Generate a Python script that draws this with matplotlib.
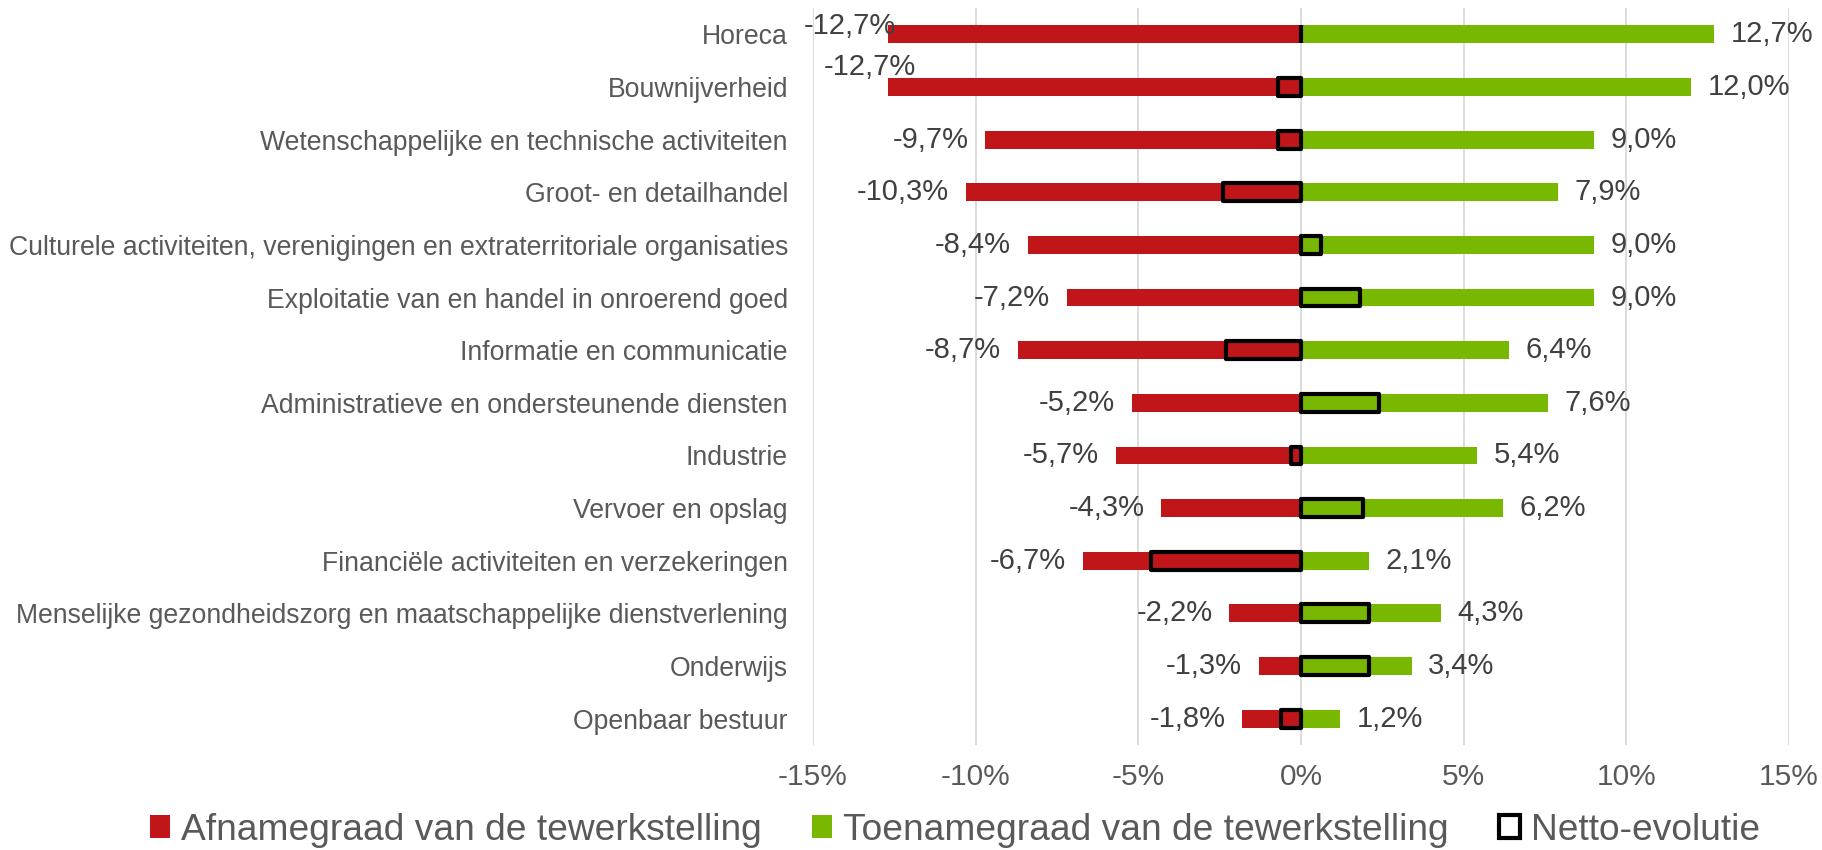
import numpy as np
import matplotlib.pyplot as plt
from matplotlib.patches import Patch
from matplotlib.ticker import FuncFormatter

plt.rcParams['font.family'] = ['Liberation Sans', 'DejaVu Sans']

# Data -----

sectors = [
    "Horeca",
    "Bouwnijverheid",
    "Wetenschappelijke en technische activiteiten",
    "Groot- en detailhandel",
    "Culturele activiteiten, verenigingen en extraterritoriale organisaties",
    "Exploitatie van en handel in onroerend goed",
    "Informatie en communicatie",
    "Administratieve en ondersteunende diensten",
    "Industrie",
    "Vervoer en opslag",
    "Financiële activiteiten en verzekeringen",
    "Menselijke gezondheidszorg en maatschappelijke dienstverlening",
    "Onderwijs",
    "Openbaar bestuur",
]
afname = [-12.7, -12.7, -9.7, -10.3, -8.4, -7.2, -8.7, -5.2, -5.7, -4.3, -6.7, -2.2, -1.3, -1.8]
toename = [12.7, 12.0, 9.0, 7.9, 9.0, 9.0, 6.4, 7.6, 5.4, 6.2, 2.1, 4.3, 3.4, 1.2]
netto = [0.0, -0.7, -0.7, -2.4, 0.6, 1.8, -2.3, 2.4, -0.3, 1.9, -4.6, 2.1, 2.1, -0.6]

legend_labels = ["Afnamegraad van de tewerkstelling",
                 "Toenamegraad van de tewerkstelling",
                 "Netto-evolutie"]

RED = "#C0161A"
GREEN = "#78B800"
TXT = "#595959"
LBL = "#404040"

# Plot -----

fig = plt.figure(figsize=(18.22, 8.5), dpi=100)
ax = fig.add_axes([0.4462, 0.1235, 0.5357, 0.8671])

y = np.arange(len(sectors))
h = 0.34

ax.barh(y, afname, height=h, color=RED, zorder=2)
ax.barh(y, toename, height=h, color=GREEN, zorder=2)
ax.barh(y, netto, height=h, facecolor="none", edgecolor="black",
        linewidth=3.0, joinstyle="round", zorder=3)

# data labels; the two top left labels were shifted by hand in the original
shift = {0: (6, 6), 1: (20, 14.5)}
for i in range(len(sectors)):
    dx, dy = shift.get(i, (-12, 0))
    ax.annotate(f"{afname[i]:.1f}%".replace(".", ","), (afname[i], y[i]),
                xytext=(dx, dy), textcoords="offset points",
                ha="right", va="center", fontsize=21, color=LBL)
    ax.annotate(f"{toename[i]:.1f}%".replace(".", ","), (toename[i], y[i]),
                xytext=(12, 0), textcoords="offset points",
                ha="left", va="center", fontsize=21, color=LBL)

ax.set_xlim(-15, 15)
ax.set_ylim(len(sectors) - 0.5, -0.5)
ax.set_xticks(np.arange(-15, 16, 5))
ax.xaxis.set_major_formatter(FuncFormatter(lambda v, p: f"{v:.0f}%"))
ax.set_yticks(y)
ax.set_yticklabels(sectors)

ax.grid(axis="x", color="#D9D9D9", linewidth=1.3, zorder=0)
ax.set_axisbelow(True)
for s in ax.spines.values():
    s.set_visible(False)
ax.tick_params(axis="x", length=0, pad=13, labelsize=21.5, labelcolor=TXT)
ax.tick_params(axis="y", length=0, pad=18, labelsize=19.2, labelcolor=TXT)

handles = [
    Patch(facecolor=RED, edgecolor="none"),
    Patch(facecolor=GREEN, edgecolor="none"),
    Patch(facecolor="white", edgecolor="black", linewidth=3.0),
]
fig.legend(handles, legend_labels, loc="center", bbox_to_anchor=(0.524, 0.0235),
           ncol=3, frameon=False, fontsize=26.7, labelcolor=TXT,
           handlelength=0.55, handleheight=0.55, handletextpad=0.3,
           columnspacing=1.35)

plt.savefig("out.png", dpi=100)
